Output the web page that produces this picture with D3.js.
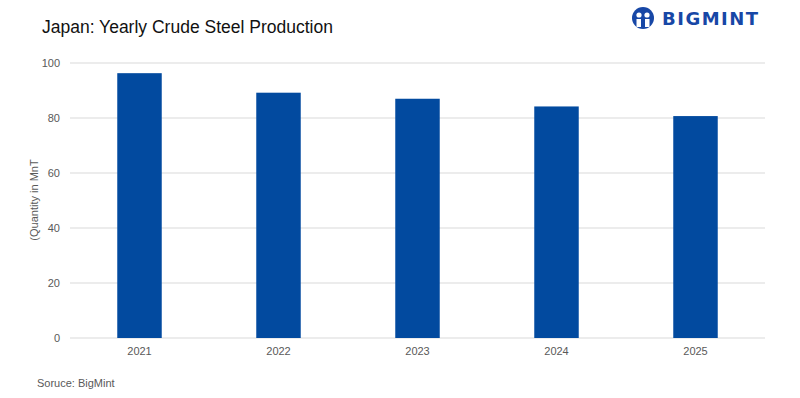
<!DOCTYPE html>
<html>
<head>
<meta charset="utf-8">
<script src="https://cdn.jsdelivr.net/npm/d3@7"></script>
<style>
  body { margin: 0; background: #fff; }
  svg { display: block; font-family: "Liberation Sans", Arial, sans-serif; }
  .tick text { fill: #595959; font-size: 11px; }
</style>
</head>
<body>
<script>
var years = ["2021", "2022", "2023", "2024", "2025"];
var production = [96.3, 89.2, 87.0, 84.2, 80.7];
var yTicks = [0, 20, 40, 60, 80, 100];

var margin = { top: 63, right: 35, bottom: 60, left: 70 },
  width = 800 - margin.left - margin.right,
  height = 398 - margin.top - margin.bottom;

var svg = d3
  .select("body")
  .append("svg")
  .attr("width", 800)
  .attr("height", 398);

// title
svg
  .append("text")
  .attr("x", 42)
  .attr("y", 33)
  .style("font-size", "17.5px")
  .style("fill", "#111")
  .text("Japan: Yearly Crude Steel Production");

// logo
var logo = svg.append("g").attr("transform", "translate(643,18)");
logo.append("circle").attr("r", 11).attr("fill", "#1747a6");
logo.append("circle").attr("cx", -4).attr("cy", -3).attr("r", 2.6).attr("fill", "#fff");
logo.append("circle").attr("cx", 4).attr("cy", -3).attr("r", 2.6).attr("fill", "#fff");
logo.append("rect").attr("x", -6.5).attr("y", 1).attr("width", 4.5).attr("height", 8).attr("fill", "#fff");
logo.append("rect").attr("x", 2).attr("y", 1).attr("width", 4.5).attr("height", 8).attr("fill", "#fff");
svg
  .append("text")
  .attr("x", 662)
  .attr("y", 25)
  .style("font-size", "18px")
  .style("font-weight", "bold")
  .style("font-family", "'DejaVu Sans', sans-serif")
  .style("letter-spacing", "1.5px")
  .style("fill", "#1747a6")
  .text("BIGMINT");

var g = svg
  .append("g")
  .attr("transform", "translate(" + margin.left + "," + margin.top + ")");

var x = d3.scaleBand().domain(years).range([0, width]).paddingInner(0.68).paddingOuter(0.34);
var y = d3.scaleLinear().domain([0, 100]).range([height, 0]);

// gridlines
g.selectAll(".grid")
  .data(yTicks)
  .enter()
  .append("line")
  .attr("x1", 0)
  .attr("x2", width)
  .attr("y1", function (d) { return y(d); })
  .attr("y2", function (d) { return y(d); })
  .attr("stroke", "#d9d9d9")
  .attr("stroke-width", 1);

var yAxis = g
  .append("g")
  .call(d3.axisLeft(y).tickValues(yTicks).tickSize(0).tickPadding(10));
yAxis.select(".domain").remove();

var xAxis = g
  .append("g")
  .attr("transform", "translate(0," + height + ")")
  .call(d3.axisBottom(x).tickSize(0).tickPadding(9));
xAxis.select(".domain").remove();

g.selectAll(".bar")
  .data(production)
  .enter()
  .append("rect")
  .attr("class", "bar")
  .attr("x", function (d, i) { return x(years[i]); })
  .attr("width", x.bandwidth())
  .attr("y", function (d) { return y(d); })
  .attr("height", function (d) { return height - y(d); })
  .attr("fill", "#024a9f");

// y axis title
svg
  .append("text")
  .attr("transform", "translate(38,200) rotate(-90)")
  .style("text-anchor", "middle")
  .style("font-size", "11px")
  .style("fill", "#595959")
  .text("(Quantity in MnT");

// source
svg
  .append("text")
  .attr("x", 37)
  .attr("y", 387)
  .style("font-size", "11px")
  .style("fill", "#595959")
  .text("Soruce: BigMint");
</script>
</body>
</html>
